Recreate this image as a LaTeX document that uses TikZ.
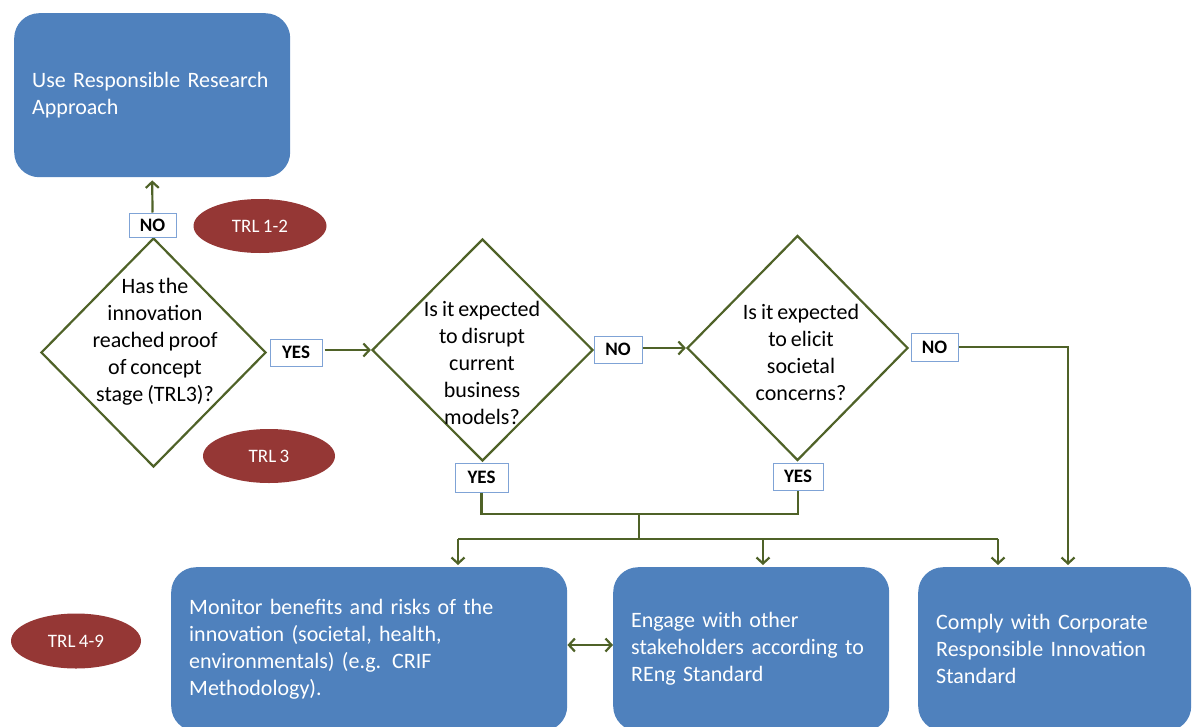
\documentclass[tikz,border=0pt]{standalone}
\usepackage{fontspec}
\setmainfont{Carlito}[WordSpace=0.8]
\usetikzlibrary{shapes.geometric,arrows.meta}
\definecolor{boxblue}{HTML}{4F81BD}
\definecolor{lineg}{HTML}{4F6228}
\definecolor{trlred}{HTML}{953735}
\definecolor{lblborder}{HTML}{7FA3D6}
\begin{document}
\begin{tikzpicture}[x=1pt,y=-1pt,
  bigbox/.style={fill=boxblue, rounded corners=25pt, text=white,
    font=\fontsize{22}{27}\selectfont, align=left, inner xsep=18pt, inner ysep=0pt,
    minimum height=164pt, anchor=north west},
  dia/.style={diamond, draw=lineg, line width=2.2pt, inner sep=0pt},
  qtext/.style={align=center, font=\fontsize{22}{27}\selectfont, inner sep=0pt},
  lbl/.style={draw=lblborder, fill=white, line width=1pt,
    font=\bfseries\fontsize{19}{20}\selectfont, inner sep=0pt},
  trl/.style={ellipse, fill=trlred, text=white, font=\fontsize{19}{20}\selectfont,
    inner sep=0pt, minimum width=133pt, minimum height=54pt},
  conn/.style={draw=lineg, line width=2.2pt},
  arr/.style={conn, -{Straight Barb[length=6pt,width=13pt,line width=2.2pt]}},
  darr/.style={conn, {Straight Barb[length=6pt,width=13pt,line width=2.2pt]}-{Straight Barb[length=6pt,width=13pt,line width=2.2pt]}}
]
\path[use as bounding box] (0,0) rectangle (1192,726);
\clip (0,0) rectangle (1192,726);

% boxes
\node[bigbox, text width=240pt] (top) at (14,13) {Use Responsible Research\\Approach};
\node[bigbox, text width=360pt] (b1) at (171,567) {Monitor benefits and risks of the\\innovation (societal, health,\\environmentals) (e.g. CRIF\\Methodology).};
\node[bigbox, text width=240pt] (b2) at (613,567) {Engage with other\\stakeholders according to\\REng Standard};
\node[bigbox, text width=237pt] (b3) at (918,567) {Comply with Corporate\\Responsible Innovation\\Standard};

% diamonds
\node[dia, minimum width=225pt, minimum height=229pt] (d1) at (153.5,352.5) {};
\node[qtext] (t1) at (155,341.5) {Has the\\innovation\\reached proof\\of concept\\stage (TRL3)?};
\node[dia, minimum width=221pt, minimum height=222pt] (d2) at (482.5,350) {};
\node[qtext] (t2) at (482,362.5) {Is it expected\\to disrupt\\current\\business\\models?};
\node[dia, minimum width=221pt, minimum height=225pt] (d3) at (797.5,348) {};
\node[qtext] (t3) at (801,352) {Is it expected\\to elicit\\societal\\concerns?};

% labels
\node[lbl, minimum width=47pt, minimum height=24pt] (no1) at (152.5,225) {NO};
\node[lbl, minimum width=52pt, minimum height=27pt] (yes1) at (296,352.5) {YES};
\node[lbl, minimum width=48pt, minimum height=27pt] (no2) at (618,349.5) {NO};
\node[lbl, minimum width=53pt, minimum height=29pt] (yes2) at (481.5,477.5) {YES};
\node[lbl, minimum width=50pt, minimum height=27pt] (yes3) at (798,476.5) {YES};
\node[lbl, minimum width=47pt, minimum height=28pt] (no3) at (934.5,347) {NO};

% TRL ellipses
\node[trl] (trl12) at (260,226) {TRL 1-2};
\node[trl, minimum width=132pt] (trl3) at (269,456) {TRL 3};
\node[trl, minimum width=130pt, minimum height=55pt] (trl49) at (76,641) {TRL 4-9};

% coordinates
\coordinate (j1) at (639,514);
\coordinate (j2) at (639,539);
\coordinate (h1) at (458,539);
\coordinate (h2) at (763,539);
\coordinate (h3) at (998,539);
\coordinate (r1) at (1068,347);
\coordinate (m) at (590,645);

% connectors
\draw[arr, shorten >=3pt] (no1.north) -- (top.south);
\draw[arr, shorten <=2pt] (yes1.east |- d2.west) -- (d2.west);
\draw[arr] (no2.east |- d3.west) -- (d3.west);
\draw[conn] (yes2.south) |- (j1) -| (yes3.south);
\draw[conn] (j1) -- (j2);
\draw[conn] (h1) -- (h3);
\draw[arr, shorten >=2pt] (h1) -- (h1 |- b1.north);
\draw[arr, shorten >=2pt] (h2) -- (h2 |- b2.north);
\draw[arr, shorten >=2pt] (h3) -- (h3 |- b3.north);
\draw[arr, shorten >=2pt] (no3.east) -- (r1) -- (r1 |- b3.north);
\draw[darr] (b1.east |- m) -- (b2.west |- m);
\end{tikzpicture}
\end{document}
